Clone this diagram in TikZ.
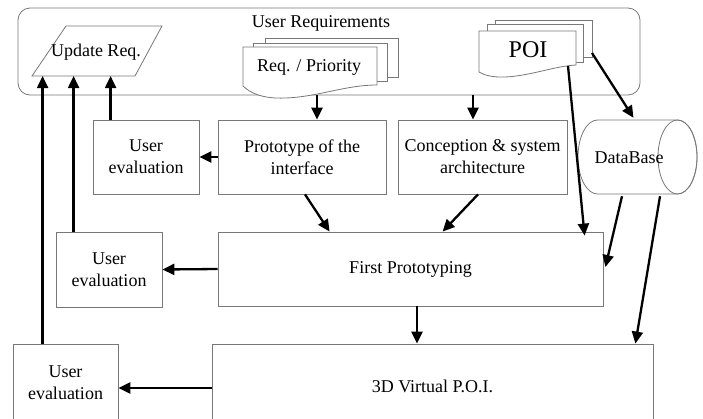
\documentclass[tikz,border=0pt]{standalone}
\usepackage{fontspec}
\setmainfont{Liberation Serif}
\usetikzlibrary{arrows.meta,calc}
\definecolor{bord}{RGB}{120,120,120}
\tikzset{
  box/.style={draw=bord,line width=0.8pt,fill=white,inner sep=0pt,align=center,font=\fontsize{18}{22}\selectfont},
  txt/.style={inner sep=0pt,align=center,font=\fontsize{18}{22}\selectfont},
  doc/.style={draw=bord,line width=0.8pt,fill=white},
  arr/.style={line width=2.3pt,-{Triangle[length=12pt,width=11pt]}},
}
\begin{document}
\begin{tikzpicture}[x=1pt,y=-1pt]
\useasboundingbox (0,0) rectangle (703,418);
\clip (0,0) rectangle (703,418);
% user requirements container
\node[draw=bord,line width=0.8pt,rounded corners=12pt,minimum width=622pt,minimum height=87pt,inner sep=0pt] (ur) at (329,51.5) {};
\node[txt] (urt) at (321,23) {User Requirements};
% update req parallelogram
\draw[doc] (32,76) coordinate (updB) -- (135,76) -- (162,26) -- (66,26) -- cycle;
\node[txt] (upd) at (96,52) {Update Req.};
% req / priority documents
\draw[doc] (265,38) rectangle (398,77);
\draw[doc] (253,43) rectangle (387,81);
\draw[doc] (243,47) -- (377,47) -- (377,85) .. controls (345,85) and (318,97) .. (285,98) .. controls (263,99) and (250,93) .. (243,86) -- cycle;
\node[txt] (req) at (309,67) {Req. / Priority};
% POI documents
\draw[doc] (495,20) rectangle (592,57);
\draw[doc] (487,24) rectangle (583,62);
\draw[doc] (479,31) -- (576,31) -- (576,65) .. controls (555,66) and (530,76) .. (505,77) .. controls (492,77.5) and (484,75) .. (479,72) -- cycle;
\node[txt,font=\fontsize{24}{28}\selectfont] (poi) at (528,50) {POI};
\coordinate (poiA) at (568,66);
\coordinate (poiB) at (592,53);
% database cylinder
\draw[doc] (597.5,120) -- (677.5,120) arc (90:-90:19.5pt and 37pt) -- (597.5,194) arc (270:90:19.5pt and 37pt) -- cycle;
\draw[draw=bord,line width=0.8pt] (677.5,157) ellipse (19.5pt and 37pt);
\node[inner sep=0pt,minimum width=119pt,minimum height=74pt] (db) at (637.5,157) {};
\node[txt] (dbt) at (629,158) {DataBase};
% boxes
\node[box,minimum width=106pt,minimum height=74pt] (ue1) at (146,157) {User\\evaluation};
\node[box,minimum width=168pt,minimum height=74pt] (proto) at (302,157) {Prototype of the\\interface};
\node[box,minimum width=169pt,minimum height=74pt] (conc) at (482.5,157) {Conception \& system\\architecture};
\node[box,minimum width=385pt,minimum height=74pt] (first) at (410.5,269) {First Prototyping};
\node[box,minimum width=106pt,minimum height=75pt] (ue2) at (109,269.5) {User\\evaluation};
\node[box,minimum width=441pt,minimum height=84pt] (virt) at (432.5,386) {3D Virtual P.O.I.};
\node[box,minimum width=105pt,minimum height=78pt] (ue3) at (65.5,383) {User\\evaluation};
% arrows
\draw[arr] ($(ue1.north west)+(18,0)$) coordinate (a1) -- (a1 |- updB);
\draw[arr] ($(ue2.north west)+(18,0)$) coordinate (a2) -- (a2 |- updB);
\draw[arr] ($(ue3.north west)+(30,0)$) coordinate (a3) -- (a3 |- updB);
\coordinate (b1) at ($(proto.north)+(15,0)$);
\draw[arr] (ur.south -| b1) -- (b1);
\coordinate (b2) at ($(conc.north)+(-9.5,0)$);
\draw[arr] (ur.south -| b2) -- (b2);
\draw[arr] (proto.west) -- (ue1.east);
\draw[arr] ($(proto.south)+(3,0)$) -- ($(first.north west)+(112,0)$);
\draw[arr] ($(conc.south)+(-4.5,0)$) -- ($(first.north west)+(225,0)$);
\draw[arr] (poiA) -- ($(first.north west)+(367,4)$);
\draw[arr] (poiB) -- ($(db.north)+(-4,-2)$);
\draw[arr] ($(db.south)+(-15.5,2)$) -- ($(first.east)+(2,-2)$);
\draw[arr] ($(db.south)+(22.5,2)$) -- ($(virt.north east)+(-18,0)$);
\draw[arr] (first.south -| 417,0) -- (virt.north -| 417,0);
\draw[arr] (first.west) -- (ue2.east);
\draw[arr] (virt.west |- 0,388) -- (ue3.east |- 0,388);
\end{tikzpicture}
\end{document}
